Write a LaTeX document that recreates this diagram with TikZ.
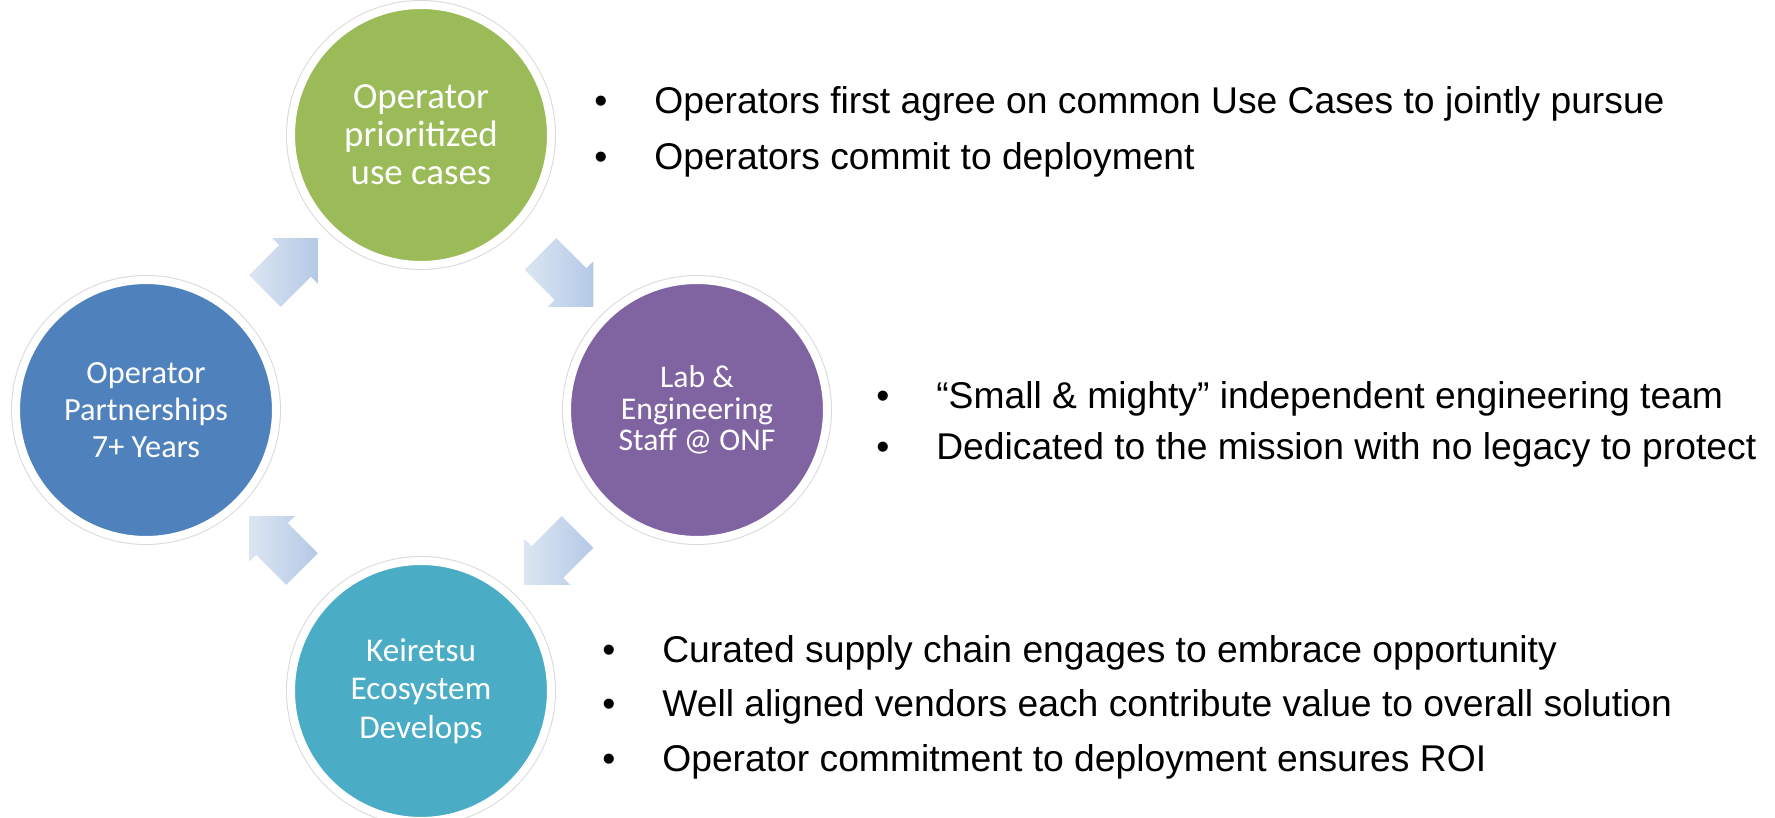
\documentclass[tikz,border=0pt]{standalone}
\usepackage{fontspec}
\setmainfont{Liberation Sans}
\newfontfamily\circfont{Carlito}
\usetikzlibrary{calc,shapes.arrows}

\definecolor{cgreen}{HTML}{9BBB59}
\definecolor{cpurple}{HTML}{8064A2}
\definecolor{cblue}{HTML}{4F81BD}
\definecolor{cteal}{HTML}{4BACC6}
\definecolor{arrlight}{HTML}{DCE6F2}
\definecolor{arrdark}{HTML}{B4C8E6}

\newcommand\bul{\makebox[1.2cm][l]{•}}

\begin{document}
\begin{tikzpicture}[x=0.02cm,y=0.02cm]
  % one unit = one pixel of the slide
  \tikzset{
    stage/.style = {circle, fill=#1, draw=white, line width=0.16cm, minimum size=5.2cm,
                    inner sep=0pt, preaction={draw=black!15, line width=0.2cm},
                    text=white, align=center},
    turn/.style  = {single arrow, rotate=#1, inner xsep=0pt, inner ysep=0.44cm,
                    minimum height=1.5cm, single arrow head extend=0.2cm,
                    left color=arrlight, right color=arrdark},
    bullets/.style = {anchor=west, align=left, inner sep=0pt}
  }
  \useasboundingbox (0,0) rectangle (1775,818);

  % ========= the four stages =========
  \node[stage=cgreen, font=\circfont\fontsize{21}{21.6}\selectfont] (G) at (421,683)
    {Operator\\prioritized\\use cases};
  \node[stage=cpurple, font=\circfont\fontsize{18}{17.8}\selectfont] (P) at (697,408)
    {Lab \&\\Engineering\\Staff @ ONF};
  \node[stage=cteal, font=\circfont\fontsize{18.9}{22}\selectfont] (T) at (421,127)
    {Keiretsu\\Ecosystem\\Develops};
  \node[stage=cblue, font=\circfont\fontsize{18.4}{21}\selectfont] (B) at (146,408)
    {Operator\\Partnerships\\7+ Years};

  % ========= arrows between stages =========
  \node[turn=-45]  (a1) at ($(G)!0.5!(P)$) {};
  \node[turn=-135] (a2) at ($(P)!0.5!(T)$) {};
  \node[turn=135]  (a3) at ($(T)!0.5!(B)$) {};
  \node[turn=45]   (a4) at ($(B)!0.5!(G)$) {};

  % ========= bullet lists =========
  \node[bullets, font=\fontsize{21.2}{31.5}\selectfont] (usecases) at (594,686)
    {\bul Operators first agree on common Use Cases to jointly pursue\\
     \bul Operators commit to deployment};
  \node[bullets, font=\fontsize{21.2}{29}\selectfont] (staff) at (876,394)
    {\bul “Small \& mighty” independent engineering team\\
     \bul Dedicated to the mission with no legacy to protect};
  \node[bullets, font=\fontsize{21.2}{31}\selectfont] (keiretsu) at (602,111)
    {\bul Curated supply chain engages to embrace opportunity\\
     \bul Well aligned vendors each contribute value to overall solution\\
     \bul Operator commitment to deployment ensures ROI};
\end{tikzpicture}
\end{document}
